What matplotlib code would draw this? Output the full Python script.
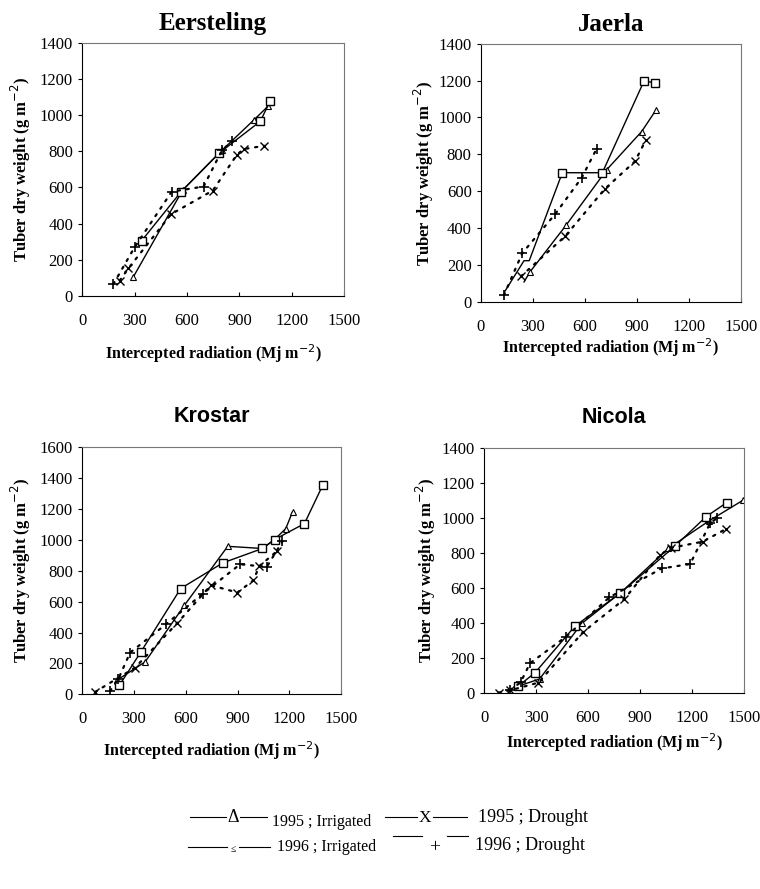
import matplotlib.pyplot as plt

SERIF = ['Liberation Serif', 'DejaVu Serif']
SANS = ['Liberation Sans', 'DejaVu Sans']
plt.rcParams['font.family'] = SERIF

# Eersteling
eer_irr95_x = [294, 575, 800, 985, 1065]
eer_irr95_y = [107, 585, 805, 975, 1050]
eer_irr96_x = [341, 567, 784, 1019, 1075]
eer_irr96_y = [306, 577, 790, 965, 1075]
eer_dr95_x = [215, 265, 509, 748, 885, 924, 1042]
eer_dr95_y = [85, 153, 452, 583, 780, 812, 830]
eer_dr96_x = [179, 300, 513, 695, 800, 857]
eer_dr96_y = [66, 269, 577, 605, 805, 854]

# Jaerla
jae_irr95_x = [250, 285, 492, 727, 929, 1010]
jae_irr95_y = [110, 165, 416, 717, 924, 1038]
jae_irr96_x = [140, 250, 280, 471, 702, 942, 1004]
jae_irr96_y = [60, 225, 225, 701, 701, 1196, 1189]
jae_dr95_x = [232, 488, 717, 890, 952]
jae_dr95_y = [140, 358, 614, 762, 876]
jae_dr96_x = [134, 240, 429, 583, 669]
jae_dr96_y = [38, 266, 476, 674, 831]

# Krostar
kro_irr95_x = [200, 365, 592, 843, 1044, 1114, 1179, 1218]
kro_irr95_y = [90, 210, 576, 958, 944, 1002, 1073, 1181]
kro_irr96_x = [216, 340, 571, 815, 1044, 1114, 1287, 1393]
kro_irr96_y = [58, 274, 685, 851, 944, 1002, 1105, 1354]
kro_dr95_x = [75, 307, 552, 745, 899, 992, 1025, 1127]
kro_dr95_y = [15, 173, 462, 706, 659, 738, 829, 926]
kro_dr96_x = [162, 210, 278, 485, 699, 915, 1069, 1160]
kro_dr96_y = [21, 100, 270, 453, 652, 842, 825, 991]

# Nicola
nic_irr95_x = [200, 320, 564, 790, 1064, 1300, 1496]
nic_irr95_y = [40, 80, 398, 575, 827, 985, 1103]
nic_irr96_x = [198, 294, 525, 785, 1102, 1281, 1400]
nic_irr96_y = [40, 116, 383, 570, 840, 1008, 1088]
nic_dr95_x = [83, 150, 313, 573, 808, 1015, 1080, 1262, 1395]
nic_dr95_y = [2, 15, 59, 350, 535, 789, 830, 865, 937]
nic_dr96_x = [150, 210, 265, 473, 723, 1025, 1189, 1304, 1342]
nic_dr96_y = [17, 60, 170, 322, 547, 712, 737, 970, 998]

# name, title font, ymax, axes rect, x labelpad, y labelpad, title size, title pad
panels = [
    ("Eersteling", SERIF, 1400, [0.108, 0.667, 0.345, 0.285], 10, 5, 18, 9,
     eer_irr95_x, eer_irr95_y, eer_irr96_x, eer_irr96_y,
     eer_dr95_x, eer_dr95_y, eer_dr96_x, eer_dr96_y),
    ("Jaerla", SERIF, 1400, [0.6325, 0.660, 0.342, 0.291], 1, 1.5, 18, 9,
     jae_irr95_x, jae_irr95_y, jae_irr96_x, jae_irr96_y,
     jae_dr95_x, jae_dr95_y, jae_dr96_x, jae_dr96_y),
    ("Krostar", SANS, 1600, [0.108, 0.219, 0.341, 0.278], 9, 5, 15.5, 18,
     kro_irr95_x, kro_irr95_y, kro_irr96_x, kro_irr96_y,
     kro_dr95_x, kro_dr95_y, kro_dr96_x, kro_dr96_y),
    ("Nicola", SANS, 1400, [0.637, 0.2205, 0.342, 0.2755], 4, 3, 15.5, 18,
     nic_irr95_x, nic_irr95_y, nic_irr96_x, nic_irr96_y,
     nic_dr95_x, nic_dr95_y, nic_dr96_x, nic_dr96_y),
]

fig = plt.figure(figsize=(7.6, 8.89), dpi=100)

dotted = dict(color='black', linestyle=(0, (1, 3)), linewidth=1.6,
              dash_capstyle='round')

for (name, tfam, ymax, rect, xpad, ypad, tsize, tpad,
     ix5, iy5, ix6, iy6, dx5, dy5, dx6, dy6) in panels:
    ax = fig.add_axes(rect)
    # Jaerla: the first points of the irrigated lines carry no symbol
    skip5 = slice(1, None) if name == "Jaerla" else None
    skip6 = slice(3, None) if name == "Jaerla" else None
    ax.plot(ix5, iy5, color='black', linewidth=1.0, marker='^', markersize=5,
            mfc='white', mec='black', mew=0.8, markevery=skip5)
    ax.plot(ix6, iy6, color='black', linewidth=1.0, marker='s', markersize=5.5,
            mfc='white', mec='black', mew=1.0, markevery=skip6)
    ax.plot(dx5, dy5, marker='x', markersize=6, mew=1.0, **dotted)
    ax.plot(dx6, dy6, marker='+', markersize=7, mew=1.2, **dotted)
    ax.set_xlim(0, 1500)
    ax.set_ylim(0, ymax)
    ax.set_xticks(range(0, 1501, 300))
    ax.set_yticks(range(0, ymax + 1, 200))
    ax.tick_params(axis='x', direction='in', length=3, labelsize=12, pad=12)
    ax.tick_params(axis='y', direction='out', length=3, labelsize=12)
    ax.tick_params(top=False, right=False)
    for s in ax.spines.values():
        s.set_color('#777777')
        s.set_linewidth(0.8)
    ax.spines['left'].set_color('black')
    ax.spines['bottom'].set_color('black')
    ax.set_ylabel('Tuber dry weight (g m$^{-2}$)', fontweight='bold',
                  fontsize=12, labelpad=ypad)
    ax.set_xlabel('Intercepted radiation (Mj m$^{-2}$)', fontweight='bold',
                  fontsize=11.5, labelpad=xpad)
    ax.set_title(name, family=tfam, fontweight='bold', fontsize=tsize, pad=tpad)

# legend drawn by hand, like the original
def leg_line(x0, x1, y):
    fig.add_artist(plt.Line2D([x0 / 760, x1 / 760], [1 - y / 889, 1 - y / 889],
                              color='black', linewidth=0.8))

def ftxt(x, y, s, size):
    fig.text(x / 760, 1 - y / 889, s, va='center', ha='left', fontsize=size)

leg_line(190, 226, 817)
fig.text(233 / 760, 1 - 818 / 889, 'Δ', ha='center', va='center', fontsize=13)
leg_line(240, 267, 817)
ftxt(272, 822, '1995 ; Irrigated', 11.5)
leg_line(385, 417, 817)
fig.text(425 / 760, 1 - 818 / 889, 'X', ha='center', va='center', fontsize=12.5)
leg_line(433, 467, 817)
ftxt(478, 817, '1995 ; Drought', 13)

leg_line(188, 227, 847)
fig.text(233 / 760, 1 - 849 / 889, '≤', ha='center', va='center', fontsize=7)
leg_line(239, 270, 847)
ftxt(277, 847, '1996 ; Irrigated', 11.5)
leg_line(393, 422, 836)
fig.text(435 / 760, 1 - 848 / 889, '+', ha='center', va='center', fontsize=14)
leg_line(447, 468, 836)
ftxt(475, 846, '1996 ; Drought', 13)

fig.savefig('out.png', dpi=100)
